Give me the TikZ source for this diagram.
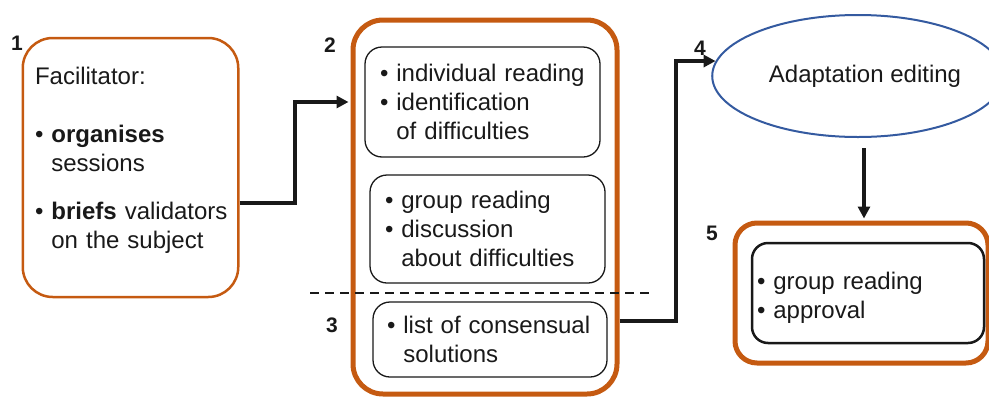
\documentclass[tikz,border=0pt]{standalone}
\usepackage{fontspec}
\setmainfont{Liberation Sans}
\definecolor{valorange}{RGB}{197,90,17}
\definecolor{valblue}{RGB}{52,90,160}
\definecolor{valink}{RGB}{25,25,25}
\usetikzlibrary{arrows.meta,positioning,shapes.geometric}
\newcommand{\taskfont}{\fontsize{24}{29}\selectfont}
\newcommand{\numfont}{\fontsize{21}{25}\selectfont\bfseries}
\newcommand{\hang}{\phantom{\textbullet\ }}
\tikzset{
  stage/.style={rectangle,rounded corners=#1,draw=valorange,line width=5pt,
                inner sep=0pt,text=valink,font=\taskfont,align=left},
  stage/.default=30pt,
  task/.style={rectangle,rounded corners=17pt,draw=valink,line width=1.3pt,
               inner sep=0pt,text=valink,font=\taskfont,align=left},
  num/.style={font=\numfont,text=valink,inner sep=0pt},
  flow/.style={-{Triangle[length=12pt,width=12pt]},line width=4pt,valink},
  cut/.style={valink,line width=1.3pt,dash pattern=on 9pt off 6pt},
}

\begin{document}
\begin{tikzpicture}[x=1pt,y=-1pt]
  \useasboundingbox (0,0) rectangle (989,397);
  \node[stage=30pt,line width=2.5pt,minimum width=215.5pt,minimum height=259pt,
        text width=191pt] (fac) at (130.5,167.5)
       {Facilitator:\\[29pt]
        \textbullet\ \textbf{organises}\\
        \hang sessions\\[19pt]
        \mbox{\textbullet\ \textbf{briefs} validators}\\
        \hang on the subject\\[-10pt]\mbox{}};
  \node[stage=30pt,minimum width=264pt,minimum height=374pt] (session) at (485,207) {};
  \node[task,minimum width=235pt,minimum height=110pt,text width=205pt]
    (solo) at (482.5,102)
    {\textbullet\ individual reading\\
     \textbullet\ identification\\
     \hang of difficulties};
  \node[task,minimum width=235pt,minimum height=108pt,text width=205pt]
    (talk) at (487.5,229)
    {\textbullet\ group reading\\
     \textbullet\ discussion\\
     \hang about difficulties};
  \node[task,minimum width=234pt,minimum height=75pt,text width=206pt]
    (consensus) at (490,339.5)
    {\textbullet\ list of consensual\\
     \hang solutions};
  \node[ellipse,draw=valblue,line width=2pt,minimum width=260pt,minimum height=122pt,
        inner sep=0pt,font=\taskfont,text=valink] (edit) at (858,76)
       {\hspace*{14pt}Adaptation editing};
  \node[stage=22pt,minimum width=253pt,minimum height=140pt] (approvebox) at (861.5,293) {};
  \node[task,rounded corners=16pt,line width=2.5pt,minimum width=232pt,minimum height=100pt,
        text width=222pt] (approve) at (868,293)
    {\mbox{}\\[-1.5pt]
     \textbullet\ group reading\\
     \textbullet\ approval};
  \node[num] (n1) at (17,43) {1};
  \node[num] (n2) at (330,45) {2};
  \node[num] (n3) at (332,325) {3};
  \node[num] (n4) at (700,48) {4};
  \node[num] (n5) at (712,233) {5};
  \coordinate (cutL) at (310,293);
  \coordinate (cutR) at (650,293);
  \draw[cut] (cutL) -- (cutR);
  \draw[flow,shorten >=2pt] ([yshift=-35.5pt]fac.east) -- ++(55,0)
    |- (session.west |- solo.west);
  \draw[flow] ([yshift=-114pt]session.east) -- ++(56,0) |- (edit.174);
  \draw[flow,shorten >=2pt] ([xshift=6pt,yshift=-10pt]edit.south)
    -- ([xshift=6pt]edit.south |- approvebox.north);
\end{tikzpicture}
\end{document}
